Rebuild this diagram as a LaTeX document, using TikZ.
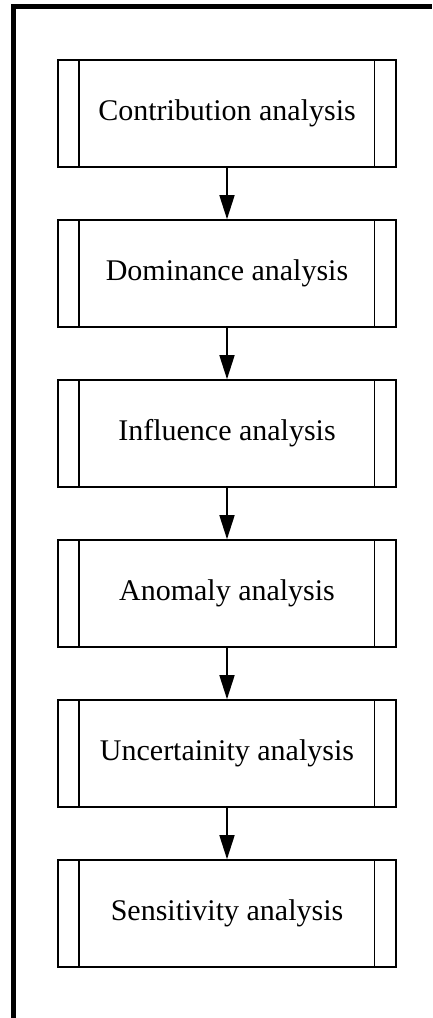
\documentclass[tikz,border=0pt]{standalone}
\usepackage{fontspec}
\setmainfont{Liberation Serif}
\usetikzlibrary{arrows.meta}
\tikzset{
  procbox/.style={draw, line width=1.6pt, rectangle, minimum width=338pt, minimum height=107pt,
    inner sep=0pt, font=\fontsize{30}{34}\selectfont,
    path picture={
      \draw[line width=1.6pt] ([xshift=21pt]path picture bounding box.north west) -- ([xshift=21pt]path picture bounding box.south west);
      \draw[line width=1.6pt] ([xshift=-21.5pt]path picture bounding box.north east) -- ([xshift=-21.5pt]path picture bounding box.south east);
    }},
  flow/.style={line width=1.6pt, -{Triangle[length=24pt, width=15pt]}},
  frame/.style={line width=5pt}
}
\begin{document}
\begin{tikzpicture}[x=1pt, y=-1pt]
  \useasboundingbox (0,0) rectangle (432,1018);
  % outer frame: top and left edges
  \coordinate (fbl) at (13.5,1018);
  \coordinate (ftl) at (13.5,6.5);
  \coordinate (ftr) at (432,6.5);
  \draw[frame] (fbl) -- (ftl) -- (ftr);
  % analysis steps
  \node[procbox] (contrib) at (227,113.5) {Contribution analysis};
  \node[procbox] (domin)   at (227,273.5) {Dominance analysis};
  \node[procbox] (influ)   at (227,433.5) {Influence analysis};
  \node[procbox] (anom)    at (227,593.5) {Anomaly analysis};
  \node[procbox] (uncert)  at (227,753.5) {Uncertainity analysis};
  \node[procbox] (sens)    at (227,913.5) {Sensitivity analysis};
  % connectors
  \draw[flow] (contrib) -- (domin);
  \draw[flow] (domin) -- (influ);
  \draw[flow] (influ) -- (anom);
  \draw[flow] (anom) -- (uncert);
  \draw[flow] (uncert) -- (sens);
\end{tikzpicture}
\end{document}
